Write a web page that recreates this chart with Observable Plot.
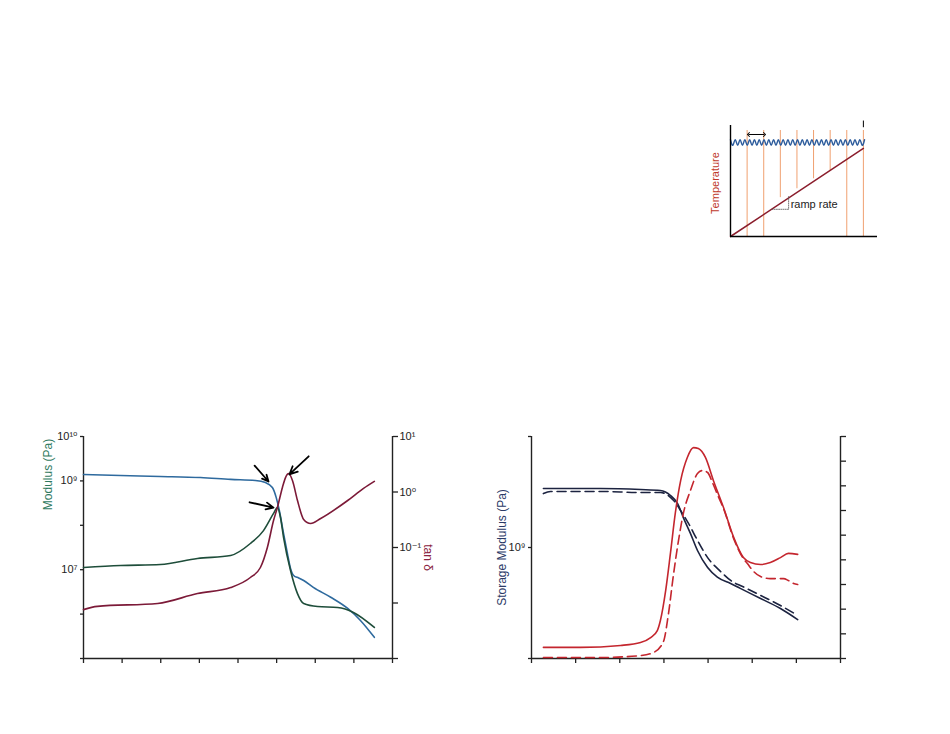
<!DOCTYPE html>
<html><head><meta charset="utf-8">
<script src="https://cdn.jsdelivr.net/npm/d3@7"></script>
<script src="https://cdn.jsdelivr.net/npm/@observablehq/plot@0.6"></script>
<style>
body{margin:0;background:#fff;}
#page{position:relative;width:950px;height:734px;overflow:hidden;background:#fff;}
.panel{position:absolute;}
</style></head><body><div id="page"></div>
<script>
// ---------- Left panel: temperature ramp, moduli (left log axis) and tan δ (right log axis)
const leftXTicks = [0,1,2,3,4,5,6,7,8];
const modTicks = [1e5,1e6,1e7,1e8,1e9,1e10];
const modTickLabels = ["", "", "10⁷", "", "10⁹", "10¹⁰"];
const tanTicks = [1e-3,1e-2,1e-1,1e0,1e1];
const tanTickLabels = ["", "", "10⁻¹", "10⁰", "10¹"];

const storageX = [0,0.96,1.99,3.03,3.81,4.45,4.71,4.89,4.99,5.07,5.18,5.28,5.36,5.44,5.57,5.70,5.95,6.40,6.84,7.17,7.53];
const storageG = [1.39e9,1.32e9,1.26e9,1.19e9,1.08e9,1.02e9,9.2e8,7.1e8,4.2e8,2.15e8,6.5e7,2.3e7,1.06e7,7.4e6,6.5e6,5.7e6,4.0e6,2.4e6,1.34e6,7.2e5,3.0e5];
const lossX = [0,0.96,1.99,2.95,3.81,4.32,4.66,4.92,5.02,5.10,5.18,5.36,5.54,5.70,6.06,6.58,6.99,7.53];
const lossG = [1.12e7,1.24e7,1.31e7,1.79e7,2.09e7,3.89e7,7.6e7,1.85e8,2.52e8,1.5e8,5.3e7,9.6e6,2.9e6,1.73e6,1.48e6,1.41e6,1.09e6,5.0e5];
const tanX = [0,0.36,1.92,2.95,3.81,4.32,4.58,4.76,4.92,5.02,5.15,5.23,5.31,5.41,5.54,5.70,5.88,6.14,6.84,7.25,7.53];
const tanD = [0.0076,0.0087,0.0098,0.0148,0.019,0.0288,0.0436,0.100,0.306,0.526,1.21,1.82,2.15,1.61,0.703,0.32,0.270,0.333,0.703,1.16,1.55];

const arrowsModulus = [
  {x1:4.43, y1:2.2e9, x2:4.79, y2:9.7e8},
  {x1:4.30, y1:3.3e8, x2:4.92, y2:2.5e8}
];
const arrowsTan = [{x1:5.83, y1:4.4, x2:5.33, y2:2.07}];

// ---------- Right panel: storage modulus (left log axis) and tan δ (right linear axis)
const rightXTicks = [0,1,2,3,4,5,6,7];
const storTicks = [1e8,1e9,1e10];
const storTickLabels = ["", "10⁹", ""];
const tanLinTicks = [0,1,2,3,4,5,6,7,8,9];

const solidGX = [0.27,1.56,2.47,2.92,3.15,3.31,3.44,3.60,3.76,3.99,4.21,4.51,4.73,5.19,5.64,6.03];
const solidG = [3.40e9,3.40e9,3.33e9,3.26e9,2.94e9,2.49e9,1.86e9,1.34e9,9.4e8,6.6e8,5.4e8,4.74e8,4.28e8,3.47e8,2.82e8,2.24e8];
const dashedGX = [0.27,0.43,1.56,2.47,2.92,3.22,3.38,3.56,3.76,3.99,4.28,4.58,4.73,5.19,5.64,6.03];
const dashedG = [3.06e9,3.20e9,3.20e9,3.13e9,3.13e9,2.65e9,2.15e9,1.64e9,1.16e9,8.1e8,6.1e8,4.84e8,4.55e8,3.70e8,3.0e8,2.44e8];
const solidTanX = [0.27,1.11,2.02,2.47,2.70,2.85,2.92,3.04,3.15,3.26,3.38,3.53,3.67,3.78,3.94,4.12,4.35,4.58,4.80,4.96,5.19,5.41,5.64,5.82,6.03];
const solidTan = [0.45,0.45,0.53,0.65,0.85,1.13,1.54,2.76,4.30,5.92,7.22,8.15,8.55,8.51,8.15,7.22,6.12,4.91,4.09,3.89,3.81,3.89,4.09,4.26,4.22];
const dashedTanX = [0.27,1.56,2.47,2.76,2.99,3.10,3.22,3.33,3.44,3.60,3.76,3.87,3.99,4.10,4.24,4.35,4.58,4.80,4.89,5.01,5.19,5.41,5.71,5.82,5.94,6.03];
const dashedTan = [0.04,0.04,0.12,0.24,0.69,1.78,3.45,4.78,5.88,6.81,7.50,7.62,7.54,7.13,6.53,6.08,4.86,4.05,3.85,3.57,3.32,3.24,3.24,3.16,3.04,3.00];

// ---------- Inset: oscillation + temperature ramp schematic
const insetOrangeX = [1,2,3,4,5,6,7,8];
const insetOrangeBottom = [0,0,3.5,4.3,5.2,5.9,0,0];
const rampTime = [0, 8];
const rampTemp = [0, 7.93];
const waveExtremes = [1,-1,1,-1,1,-1,1,-1,1,-1,1,-1,1,-1,1,-1,1,-1,1,-1,1,-1,1,-1,1,-1,1,-1,
                      1,-1,1,-1,1,-1,1,-1,1,-1,1,-1,1,-1,1,-1,1,-1,1,-1,1,-1,1,-1,1,-1,1,-1,1];
const waveSpan = 8.07, waveLevel = 8.47, waveAmp = 0.25;
const doubleArrow = [{x1:1.08, x2:2.05, y:9.19}];
const slopeBracket = [{x:2.5,y:2.45},{x:3.5,y:2.45},{x:3.5,y:3.6}];

// ---------- helpers
const FONT = "'Liberation Sans', 'DejaVu Sans', Arial, sans-serif";
const rows = (xs, ys) => xs.map((x, i) => ({x, y: ys[i]}));
const fmtFrom = (ticks, labels) => d => { const i = ticks.findIndex(t => Math.abs(t - d) <= Math.abs(t) * 1e-6); return i >= 0 ? labels[i] : ""; };
const baseStyle = {background: "transparent", overflow: "visible", fontFamily: FONT, fontSize: "11px", color: "#222"};
const page = document.getElementById("page");
function mount(svg, left, top) { const d = document.createElement("div"); d.className = "panel"; d.style.left = left + "px"; d.style.top = top + "px"; d.appendChild(svg); page.appendChild(d); }
const centered = {textAnchor: "middle", lineAnchor: "middle"};

const C = {
  blue: "#2e6a9e", green: "#1e4d3a", maroon: "#7c1a38",
  navy: "#1c2340", red: "#c4262e",
  modLabel: "#2f7a60", tanLabel: "#8a2240", storLabel: "#2b3a67",
  rampRed: "#8b1d2c", wave: "#2d5c9c", orange: "#f0a070", tempLabel: "#c0392b"
};

// Left panel geometry
const LP = {width: 440, height: 300, marginLeft: 83, marginRight: 48, marginTop: 36, marginBottom: 42};

mount(Plot.plot({
  ...LP, style: baseStyle,
  x: {domain: [0, 8]},
  y: {type: "log", domain: [1e5, 1e10]},
  marks: [
    Plot.axisX({ticks: leftXTicks, tickFormat: () => "", tickSize: 5, label: null, strokeWidth: 1.3}),
    Plot.axisY({ticks: modTicks, tickFormat: fmtFrom(modTicks, modTickLabels), tickSize: 3, tickPadding: 3, label: null, strokeWidth: 1.3}),
    Plot.ruleX([0], {strokeWidth: 1.4}),
    Plot.ruleY([1e5], {strokeWidth: 1.4}),
    Plot.line(rows(storageX, storageG), {x: "x", y: "y", stroke: C.blue, strokeWidth: 1.6, curve: "monotone-x"}),
    Plot.line(rows(lossX, lossG), {x: "x", y: "y", stroke: C.green, strokeWidth: 1.6, curve: "monotone-x"}),
    Plot.arrow(arrowsModulus, {x1: "x1", y1: "y1", x2: "x2", y2: "y2", stroke: "#000", strokeWidth: 1.8, headLength: 8, headAngle: 50}),
    Plot.text(["Modulus (Pa)"], {frameAnchor: "top-left", dx: -35, dy: 38, rotate: -90, fill: C.modLabel, fontSize: 12, ...centered})
  ]
}), 0, 400);

mount(Plot.plot({
  ...LP, style: baseStyle,
  x: {domain: [0, 8], axis: null},
  y: {type: "log", domain: [1e-3, 1e1]},
  marks: [
    Plot.axisY({anchor: "right", ticks: tanTicks, tickFormat: fmtFrom(tanTicks, tanTickLabels), tickSize: 5, tickPadding: 2, label: null, strokeWidth: 1.3}),
    Plot.ruleX([8], {strokeWidth: 1.4}),
    Plot.line(rows(tanX, tanD), {x: "x", y: "y", stroke: C.maroon, strokeWidth: 1.6, curve: "monotone-x"}),
    Plot.arrow(arrowsTan, {x1: "x1", y1: "y1", x2: "x2", y2: "y2", stroke: "#000", strokeWidth: 1.8, headLength: 8, headAngle: 50}),
    Plot.text(["tan δ"], {frameAnchor: "right", dx: 35, dy: 10, rotate: 90, fill: C.tanLabel, fontSize: 12, ...centered})
  ]
}), 0, 400);

// Right panel geometry
const RP = {width: 450, height: 300, marginLeft: 81, marginRight: 60, marginTop: 36, marginBottom: 42};

mount(Plot.plot({
  ...RP, style: baseStyle,
  x: {domain: [0, 7]},
  y: {type: "log", domain: [1e8, 1e10]},
  marks: [
    Plot.axisX({ticks: rightXTicks, tickFormat: () => "", tickSize: 5, label: null, strokeWidth: 1.3}),
    Plot.axisY({ticks: storTicks, tickFormat: fmtFrom(storTicks, storTickLabels), tickSize: 3, tickPadding: 3, label: null, strokeWidth: 1.3}),
    Plot.ruleX([0], {strokeWidth: 1.4}),
    Plot.ruleY([1e8], {strokeWidth: 1.4}),
    Plot.line(rows(solidGX, solidG), {x: "x", y: "y", stroke: C.navy, strokeWidth: 1.6, curve: "monotone-x"}),
    Plot.line(rows(dashedGX, dashedG), {x: "x", y: "y", stroke: C.navy, strokeWidth: 1.6, strokeDasharray: "9,5", curve: "monotone-x"}),
    Plot.text(["Storage Modulus (Pa)"], {frameAnchor: "left", dx: -29, rotate: -90, fill: C.storLabel, fontSize: 12, ...centered})
  ]
}), 450, 400);

mount(Plot.plot({
  ...RP, style: baseStyle,
  x: {domain: [0, 7], axis: null},
  y: {domain: [0, 9]},
  marks: [
    Plot.axisY({anchor: "right", ticks: tanLinTicks, tickFormat: () => "", tickSize: 5, label: null, strokeWidth: 1.3}),
    Plot.ruleX([7], {strokeWidth: 1.4}),
    Plot.line(rows(solidTanX, solidTan), {x: "x", y: "y", stroke: C.red, strokeWidth: 1.6, curve: "monotone-x"}),
    Plot.line(rows(dashedTanX, dashedTan), {x: "x", y: "y", stroke: C.red, strokeWidth: 1.6, strokeDasharray: "9,5", curve: "monotone-x"})
  ]
}), 450, 400);

// Inset
mount(Plot.plot({
  width: 190, height: 140, marginLeft: 30, marginRight: 13, marginTop: 15, marginBottom: 14,
  style: {...baseStyle, fontSize: "11px"},
  x: {domain: [0, 8.85], axis: null},
  y: {domain: [0, 10], axis: null},
  marks: [
    Plot.ruleX(insetOrangeX.map((x, i) => ({x, y1: insetOrangeBottom[i]})), {x: "x", y1: "y1", y2: 9.55, stroke: C.orange, strokeWidth: 1}),
    Plot.line(rows(rampTime, rampTemp), {x: "x", y: "y", stroke: C.rampRed, strokeWidth: 1.5}),
    Plot.line(waveExtremes, {x: (d, i) => i * waveSpan / (waveExtremes.length - 1), y: d => waveLevel + waveAmp * d, stroke: C.wave, strokeWidth: 1.4, curve: "natural"}),
    Plot.ruleX([0], {y1: 0, y2: 10, stroke: "#000", strokeWidth: 1.4}),
    Plot.ruleY([0], {x1: 0, x2: 8.85, stroke: "#000", strokeWidth: 1.4}),
    Plot.ruleX([8], {y1: 9.8, y2: 10.4, stroke: "#000", strokeWidth: 1}),
    Plot.link(doubleArrow, {x1: "x1", x2: "x2", y1: "y", y2: "y", stroke: "#000", strokeWidth: 1, markerStart: "arrow-reverse", markerEnd: "arrow"}),
    Plot.line(slopeBracket, {x: "x", y: "y", stroke: "#555", strokeWidth: 0.8, strokeDasharray: "1,1.2"}),
    Plot.text(["ramp rate"], {x: 3.62, y: 2.85, textAnchor: "start", fill: "#222", fontSize: 11}),
    Plot.text(["Temperature"], {frameAnchor: "left", dx: -15, dy: 2, rotate: -90, fill: C.tempLabel, fontSize: 11, ...centered})
  ]
}), 700, 110);
</script></body></html>
